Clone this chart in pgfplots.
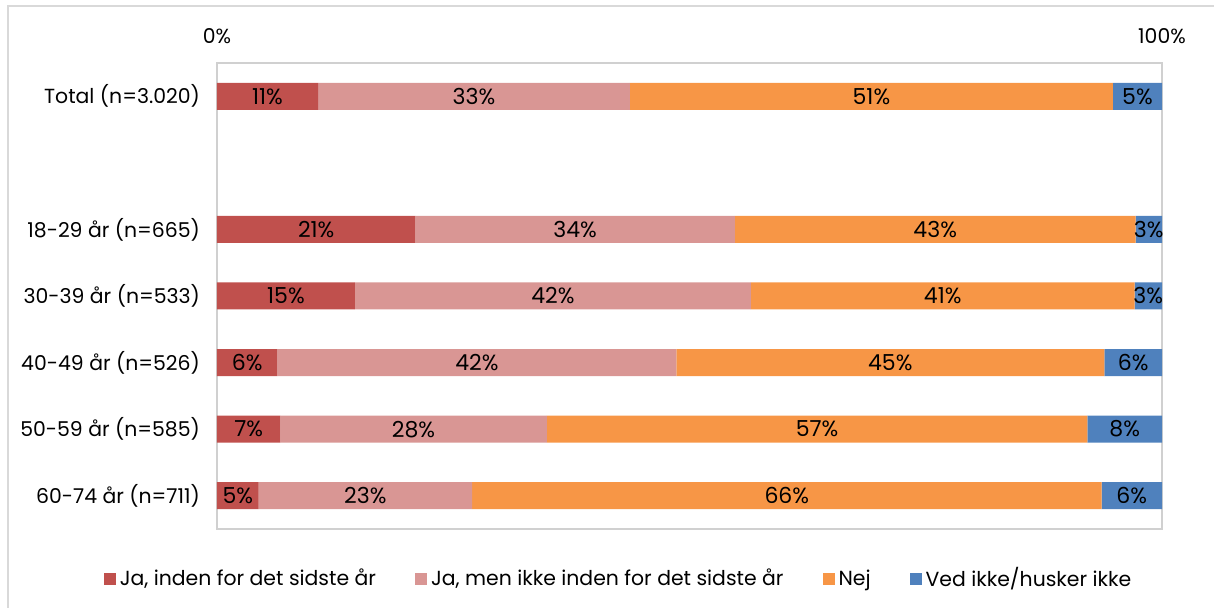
\documentclass[border=0pt]{standalone}
\usepackage{pgfplots}
\pgfplotsset{compat=1.18}
\usepackage{pgfplotstable}
\usepackage{fontspec}
\setmainfont{Poppins}
\definecolor{cA}{HTML}{C0504D}
\definecolor{cB}{HTML}{D99694}
\definecolor{cC}{HTML}{F79646}
\definecolor{cD}{HTML}{4F81BD}
\definecolor{boxgray}{HTML}{D0D0D0}
\definecolor{framegray}{HTML}{D9D9D9}
\newcommand{\cf}{\fontsize{10.2}{12}\selectfont}
\newcommand{\nf}{\fontsize{11}{12}\selectfont}
\pgfplotstableread{
y a b c d la lb lc ld
6 10.7 33.0 51.1 5.2 11 33 51 5
4 21.0 33.8 42.4 2.8 21 34 43 3
3 14.6 41.9 40.6 2.9 15 42 41 3
2 6.4 42.2 45.3 6.1 6 42 45 6
1 6.7 28.2 57.2 7.9 7 28 57 8
0 4.4 22.6 66.6 6.4 5 23 66 6
}\data
\begin{document}
\begin{tikzpicture}
\useasboundingbox (0,0) rectangle (607pt,-304pt);
\clip (0,0) rectangle (607pt,-304pt);
\draw[framegray, line width=1pt] (4pt,-320pt) -- (4pt,-3pt) -- (640pt,-3pt);
\begin{axis}[
  at={(108.5pt,-31.5pt)}, anchor=north west,
  scale only axis, width=472.5pt, height=233pt,
  xbar stacked, bar width=13.5pt,
  xmin=0, xmax=100, ymin=-0.5, ymax=6.5,
  xtick={0,100}, xticklabels={0\%,100\%},
  xticklabel pos=upper,
  ytick={0,1,2,3,4,6},
  yticklabels={60-74 år (n=711),50-59 år (n=585),40-49 år (n=526),30-39 år (n=533),18-29 år (n=665),Total (n=3.020)},
  major tick length=0pt,
  axis line style={draw=boxgray, line width=1pt},
  every tick label/.append style={font=\cf, text=black},
  xticklabel style={yshift=6pt},
  yticklabel style={xshift=-5pt},
  nodes near coords={\pgfplotspointmeta\%},
  point meta=explicit symbolic,
  every node near coord/.append style={font=\nf, text=black, anchor=center},
  legend columns=4,
  legend style={draw=none, font=\cf, at={(0.426,-0.107)}, anchor=center,
    /tikz/every even column/.append style={column sep=17.5pt}},
  legend image code/.code={\fill[#1] (0pt,-3pt) rectangle (6pt,3pt);},
]
\addplot[fill=cA, draw=none] table[x=a, y=y, meta=la] {\data};
\addplot[fill=cB, draw=none] table[x=b, y=y, meta=lb] {\data};
\addplot[fill=cC, draw=none] table[x=c, y=y, meta=lc] {\data};
\addplot[fill=cD, draw=none] table[x=d, y=y, meta=ld] {\data};
\legend{{Ja, inden for det sidste år},{Ja, men ikke inden for det sidste år},{Nej},{Ved ikke/husker ikke}}
\end{axis}
\end{tikzpicture}
\end{document}
